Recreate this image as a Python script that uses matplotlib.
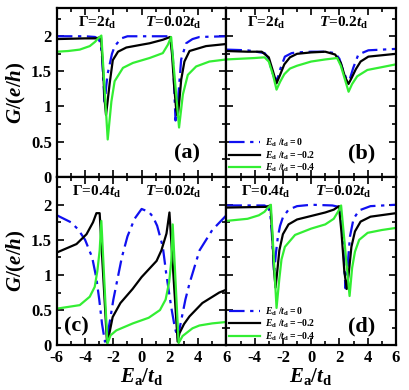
import matplotlib
matplotlib.use("Agg")
import matplotlib.pyplot as plt

plt.rcParams['font.family'] = ['Liberation Serif', 'DejaVu Serif']
plt.rcParams['font.weight'] = 'bold'
plt.rcParams['mathtext.fontset'] = 'custom'
plt.rcParams['mathtext.rm'] = 'Liberation Serif:bold'
plt.rcParams['mathtext.it'] = 'Liberation Serif:italic:bold'
plt.rcParams['mathtext.bf'] = 'Liberation Serif:bold'

# ---- panel (a): Gamma=2 td, T=0.02 td
xa_blue = [-6, -4, -3.3, -3.05, -2.9, -2.8, -2.7, -2.62, -2.5, -2.4, -2.26, -2.1, -1.9, -1.44, -1, 0, 1.5, 1.97,
           2.1, 2.21, 2.3, 2.4, 2.56, 2.8, 3.15, 3.6, 4.1, 6]
ya_blue = [2.0, 2.0, 1.99, 1.96, 1.9, 1.7, 1.35, 1.02, 1.3, 1.47, 1.6, 1.75, 1.86, 1.97, 2.0, 2.0, 2.0, 2.0,
           1.9, 1.71, 1.3, 0.8, 1.05, 1.67, 1.9, 1.96, 1.99, 2.0]
xa_black = [-6, -4, -3.2, -2.88, -2.75, -2.62, -2.52, -2.42, -2.26, -2.04, -1.67, -1.08, 0, 0.56, 1.5, 2.02,
            2.15, 2.3, 2.45, 2.56, 2.68, 2.8, 3.03, 3.39, 4.56, 6]
ya_black = [1.96, 1.97, 1.97, 1.99, 1.6, 1.1, 0.88, 1.05, 1.33, 1.66, 1.78, 1.84, 1.88, 1.9, 1.95, 1.99,
            1.75, 1.3, 0.95, 0.86, 1.1, 1.38, 1.64, 1.79, 1.86, 1.89]
xa_green = [-6, -5.2, -4.38, -3.67, -3.3, -3.08, -2.85, -2.4, -2.14, -1.91, -1.32, -0.62, 0.56, 1.5, 1.86, 2.09,
            2.65, 2.92, 3.27, 3.86, 4.8, 6]
ya_green = [1.78, 1.79, 1.81, 1.86, 1.92, 1.97, 2.01, 0.53, 1.07, 1.36, 1.55, 1.62, 1.69, 1.76, 1.88, 1.99,
            0.7, 1.17, 1.45, 1.57, 1.64, 1.67]

# ---- panel (b): Gamma=2 td, T=0.2 td
xb_blue = [-6, -4.5, -3.29, -3.0, -2.81, -2.52, -2.35, -2.21, -1.86, -1.38, -1, 0, 1, 1.7, 2.0, 2.25, 2.55,
           2.75, 2.98, 3.34, 4.05, 6]
yb_blue = [1.81, 1.8, 1.76, 1.68, 1.52, 1.36, 1.42, 1.52, 1.71, 1.76, 1.77, 1.78, 1.78, 1.76, 1.68, 1.52,
           1.37, 1.4, 1.55, 1.74, 1.8, 1.82]
xb_black = [-6, -4.5, -3.5, -3.0, -2.7, -2.45, -2.2, -1.9, -1.5, -1, 0, 1, 1.7, 2.1, 2.4, 2.64, 2.85, 3.16,
            3.5, 4.05, 6]
yb_black = [1.79, 1.78, 1.78, 1.7, 1.5, 1.33, 1.45, 1.6, 1.7, 1.75, 1.77, 1.78, 1.74, 1.62, 1.42, 1.32, 1.4,
            1.53, 1.64, 1.71, 1.75]
xb_green = [-6, -4, -3.3, -3.0, -2.7, -2.45, -2.2, -1.9, -1.5, -1, 0, 1, 1.84, 2.1, 2.4, 2.65, 2.9, 3.26,
            3.98, 5, 6]
yb_green = [1.67, 1.69, 1.7, 1.64, 1.45, 1.24, 1.35, 1.46, 1.54, 1.58, 1.64, 1.67, 1.69, 1.58, 1.38, 1.21,
            1.32, 1.43, 1.52, 1.56, 1.6]

# ---- panel (c): Gamma=0.4 td, T=0.02 td
xc_blue = [-6, -5, -4.5, -4, -3.5, -3.2, -3.0, -2.8, -2.6, -2.45, -2.2, -2, -1.7, -1.4, -1, -0.5, 0, 0.5, 0.8,
           1.1, 1.5, 1.74, 2.09, 2.35, 2.56, 2.8, 3.1, 3.39, 4.1, 5.0, 6]
yc_blue = [1.85, 1.75, 1.65, 1.5, 1.25, 0.95, 0.65, 0.3, 0.05, 0.1, 0.4, 0.65, 0.95, 1.25, 1.55, 1.8, 1.94,
           1.9, 1.83, 1.7, 1.4, 1.02, 0.55, 0.25, 0.1, 0.35, 0.65, 0.88, 1.35, 1.64, 1.85]
xc_black = [-6, -4.61, -3.9, -3.44, -3.2, -2.97, -2.45, -2.3, -2.05, -1.5, -0.64, 0, 1.06, 1.4, 1.76, 1.97,
            2.55, 2.68, 3.0, 3.39, 4.3, 5.5, 6]
yc_black = [1.32, 1.44, 1.58, 1.75, 1.88, 1.88, 0.04, 0.15, 0.4, 0.6, 0.8, 0.97, 1.2, 1.35, 1.59, 1.89,
            0.05, 0.17, 0.3, 0.41, 0.6, 0.75, 0.79]
xc_green = [-6, -4.38, -3.67, -3.32, -3.13, -2.97, -2.85, -2.42, -2.2, -1.79, -0.62, 0.5, 1.3, 1.7, 1.95,
            2.1, 2.2, 2.62, 2.9, 3.6, 4.09, 5, 6]
yc_green = [0.52, 0.57, 0.69, 0.83, 1.06, 1.35, 1.77, 0.02, 0.14, 0.21, 0.31, 0.39, 0.5, 0.65, 0.9,
            1.2, 1.72, 0.03, 0.13, 0.24, 0.28, 0.31, 0.33]

# ---- panel (d): Gamma=0.4 td, T=0.02 td
xd_blue = [-6, -3.3, -3.05, -2.9, -2.8, -2.7, -2.62, -2.5, -2.35, -2.2, -2.0, -1.6, -1, 0, 1.5, 1.95, 2.1,
           2.25, 2.43, 2.55, 2.75, 3.0, 3.4, 4.2, 6]
yd_blue = [1.99, 1.99, 1.96, 1.88, 1.65, 1.3, 1.02, 1.3, 1.55, 1.7, 1.82, 1.93, 1.98, 2.0, 1.99, 1.97, 1.85,
           1.5, 0.81, 1.05, 1.55, 1.8, 1.92, 1.98, 2.0]
xd_black = [-6, -3.2, -2.88, -2.75, -2.62, -2.52, -2.4, -2.25, -2.0, -1.6, -1.0, 0, 1, 1.6, 1.97, 2.15, 2.35,
            2.52, 2.65, 2.85, 3.1, 3.5, 4.2, 6]
yd_black = [1.96, 1.97, 1.99, 1.55, 1.05, 0.82, 1.05, 1.35, 1.58, 1.72, 1.79, 1.84, 1.89, 1.93, 1.98, 1.6,
            1.05, 0.8, 1.0, 1.4, 1.62, 1.76, 1.83, 1.88]
xd_green = [-6, -4.5, -3.7, -3.3, -3.1, -2.85, -2.45, -2.25, -2.1, -1.86, -1.14, 0, 1, 1.6, 1.9, 2.12, 2.72, 2.9,
            3.1, 3.4, 4, 5, 6]
yd_green = [1.77, 1.8, 1.85, 1.9, 1.95, 2.0, 0.53, 0.95, 1.22, 1.4, 1.57, 1.66, 1.72, 1.8, 1.9, 1.99, 0.7, 1.1,
            1.33, 1.5, 1.6, 1.64, 1.67]

legend_labels = [r'$E_{\rm d}$ $/t_{\rm d}$$= 0$', r'$E_{\rm d}$ $/t_{\rm d}$$= -0.2$',
                 r'$E_{\rm d}$ $/t_{\rm d}$$= -0.4$']

blue = '#1010f0'
green = '#33ee33'
dashdot = (0, (7, 2.5, 1.5, 2.5))

fig, axes = plt.subplots(2, 2, figsize=(4.09, 3.90), dpi=100)
fig.subplots_adjust(left=0.139, right=0.968, top=0.979, bottom=0.115, hspace=0, wspace=0)

panels = [
    (axes[0, 0], (xa_blue, ya_blue), (xa_black, ya_black), (xa_green, ya_green),
     r'$\mathit{\Gamma}$=2$t_{\rm d}$', r'$T$=0.02$t_{\rm d}$', '(a)', (0.765, 0.138), False),
    (axes[0, 1], (xb_blue, yb_blue), (xb_black, yb_black), (xb_green, yb_green),
     r'$\mathit{\Gamma}$=2$t_{\rm d}$', r'$T$=0.2$t_{\rm d}$', '(b)', (0.80, 0.138), True),
    (axes[1, 0], (xc_blue, yc_blue), (xc_black, yc_black), (xc_green, yc_green),
     r'$\mathit{\Gamma}$=0.4$t_{\rm d}$', r'$T$=0.02$t_{\rm d}$', '(c)', (0.116, 0.108), False),
    (axes[1, 1], (xd_blue, yd_blue), (xd_black, yd_black), (xd_green, yd_green),
     r'$\mathit{\Gamma}$=0.4$t_{\rm d}$', r'$T$=0.02$t_{\rm d}$', '(d)', (0.80, 0.108), True),
]

for ax, b, k, g, gam, temp, lab, labpos, leg in panels:
    ax.plot(b[0], b[1], color=blue, lw=1.6, linestyle=dashdot, label=legend_labels[0])
    ax.plot(k[0], k[1], color='black', lw=1.6, label=legend_labels[1])
    ax.plot(g[0], g[1], color=green, lw=1.6, label=legend_labels[2])
    ax.set_xlim(-6, 6)
    ax.set_ylim(0, 2.4)
    ax.set_xticks([-6, -4, -2, 0, 2, 4, 6])
    ax.set_xticks([-5, -3, -1, 1, 3, 5], minor=True)
    ax.set_yticks([0, 0.5, 1, 1.5, 2])
    ax.set_yticks([0.25, 0.75, 1.25, 1.75, 2.25], minor=True)
    ax.tick_params(which='both', direction='in', top=True, right=True, width=1.2, labelsize=12)
    ax.tick_params(which='major', length=5)
    ax.tick_params(which='minor', length=3)
    for s in ax.spines.values():
        s.set_linewidth(1.6)
    ax.text(0.235, 0.91, gam, transform=ax.transAxes, ha='center', va='center', fontsize=11)
    ax.text(0.69, 0.91, temp, transform=ax.transAxes, ha='center', va='center', fontsize=11)
    ax.text(labpos[0], labpos[1], lab, transform=ax.transAxes, ha='center', va='center', fontsize=16)
    if leg:
        ax.legend(loc='lower left', bbox_to_anchor=(0.0, 0.0), frameon=False, fontsize=7,
                  labelspacing=0.0, handlelength=3.2, handletextpad=0.5, borderpad=0.1,
                  borderaxespad=0.15)

for ax in axes[0, :]:
    ax.set_xticklabels([])
for ax in axes[:, 1]:
    ax.set_yticklabels([])
for ax in axes[:, 0]:
    ax.set_yticklabels(['0', '0.5', '1', '1.5', '2'])
    ax.set_ylabel(r'$G/(e/h)$', fontsize=15, labelpad=2)
axes[1, 0].set_xticklabels(['-6', '-4', '-2', '0', '2', '4', '6'])
axes[1, 1].set_xticklabels(['', '-4', '-2', '0', '2', '4', '6'])
for ax in axes[1, :]:
    ax.set_xlabel(r'$E_{\rm a}/t_{\rm d}$', fontsize=15, labelpad=0)

fig.savefig('out.png', dpi=100)
